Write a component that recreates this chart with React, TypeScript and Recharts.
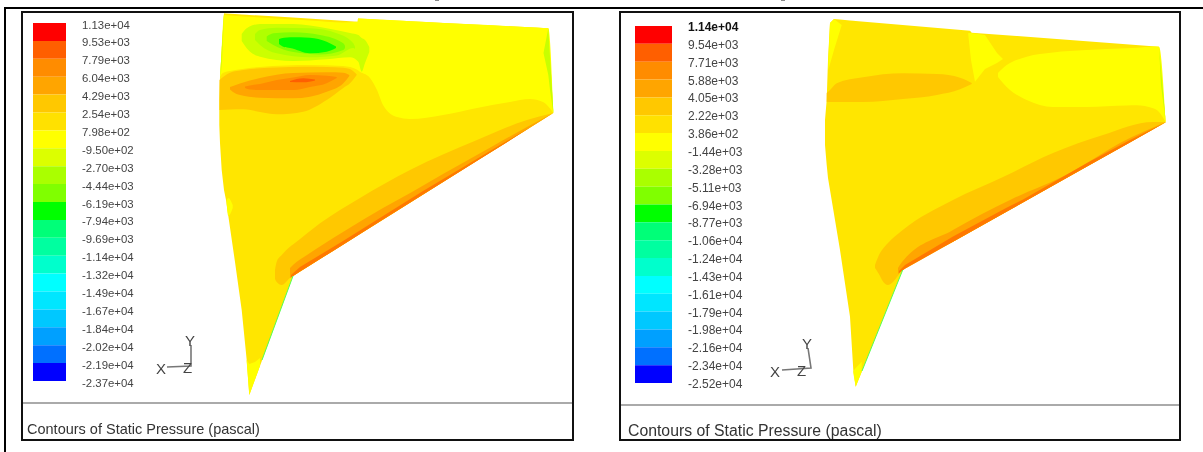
import { Area, Bar, BarChart, ComposedChart, Line, XAxis, YAxis } from "recharts";

type Row = [number, number, number];

const bandColors = [
  "#ff0000", "#ff5f00", "#ff8c00", "#ffa500", "#ffc800", "#ffe100", "#ffff00", "#dcff00", "#aaff00", "#80ff00",
  "#00ff00", "#00ff78", "#00ffa0", "#00ffcc", "#00ffff", "#00e6ff", "#00c8ff", "#00a0ff", "#0070ff", "#0000ff",
];

const leftLevels = [
  "1.13e+04", "9.53e+03", "7.79e+03", "6.04e+03", "4.29e+03", "2.54e+03", "7.98e+02", "-9.50e+02", "-2.70e+03",
  "-4.44e+03", "-6.19e+03", "-7.94e+03", "-9.69e+03", "-1.14e+04", "-1.32e+04", "-1.49e+04", "-1.67e+04",
  "-1.84e+04", "-2.02e+04", "-2.19e+04", "-2.37e+04",
];

const rightLevels = [
  "1.14e+04", "9.54e+03", "7.71e+03", "5.88e+03", "4.05e+03", "2.22e+03", "3.86e+02", "-1.44e+03", "-3.28e+03",
  "-5.11e+03", "-6.94e+03", "-8.77e+03", "-1.06e+04", "-1.24e+04", "-1.43e+04", "-1.61e+04", "-1.79e+04",
  "-1.98e+04", "-2.16e+04", "-2.34e+04", "-2.52e+04",
];

// contour bands, each row is [x, upper y, lower y]
const leftWing: Row[] = [
  [219.3, 100, 125], [220, 77, 143], [221.7, 50, 170], [224, 13.3, 190], [226, 13.4, 200], [235, 14, 262],
  [241.7, 14.4, 310], [246.7, 14.7, 360], [249.3, 14.9, 395], [293, 17.6, 276], [357.7, 21.7, 235.4],
  [358, 18.5, 235.2], [548.3, 28.3, 116.1], [553.3, 113, 113],
];
const leftYellow: Row[] = [
  [220, 77, 77], [221.7, 50, 74], [224, 15, 72.5], [230, 15.5, 71], [260, 17.5, 67], [310, 20.5, 65], [343, 22.5, 66],
  [357.7, 21.7, 70], [358, 18.5, 70.3], [370, 19.1, 78], [377, 19.5, 90], [383, 19.8, 105], [397, 20.5, 117],
  [410, 21.2, 119], [443, 22.9, 115], [477, 24.6, 108], [510, 26.3, 102], [530, 27.3, 99], [543, 28, 102],
  [548.3, 28.3, 106.5], [553.3, 113, 113],
];
const leftEdgeA: Row[] = [[220.5, 70, 78], [222, 45, 62], [224, 14, 18]];
const leftEdgeB: Row[] = [[543.5, 53, 53], [548.3, 28.3, 75], [550, 57, 90], [553.3, 110, 113]];
const leftOrange1: Row[] = [
  [219.5, 80, 110], [230, 72.7, 109.6], [243.3, 70, 109.3], [260, 68.3, 112], [276.7, 67.5, 114.3], [303.3, 66.7, 111.7],
  [326.7, 67, 100], [343.3, 67.7, 88], [350, 69, 83.3], [356.7, 74.5, 75],
];
const leftOrange2: Row[] = [
  [230, 87, 89.5], [233, 86, 92], [240, 83.5, 95], [260, 78, 97.7], [293.3, 73, 98.3], [326.7, 72.3, 91.7],
  [343.3, 72.7, 83.3], [349.3, 75, 76],
];
const leftOrange3: Row[] = [
  [245, 86.5, 88], [250, 85.5, 89.5], [260, 84, 90], [276.7, 80, 90], [293.3, 77.5, 90], [310, 75, 87],
  [326.7, 75.8, 83.3], [336.7, 77, 78],
];
const leftOrange4: Row[] = [[290, 81, 82], [303.3, 78.3, 82.3], [315, 79.5, 80.5]];
const leftGreen1: Row[] = [
  [241.7, 34, 41], [246.7, 28.3, 48.3], [260, 24, 56.7], [293.3, 24, 61], [326.7, 28.3, 59.3], [350, 33, 57.3],
  [358.3, 35, 61.7], [361.7, 38, 71.7], [365, 40, 63], [369.3, 47, 52],
];
const leftGreen2: Row[] = [
  [255, 34, 40], [260, 30, 45], [276.7, 27.7, 53.3], [310, 28.3, 57.3], [336.7, 33.3, 55.5], [353.3, 43.3, 48],
  [355, 47, 49],
];
const leftGreen3: Row[] = [
  [266.7, 36.5, 41], [273.3, 33.3, 45], [293.3, 32.3, 52], [320, 35, 54.5], [343.3, 43.3, 50], [345, 46, 48],
];
const leftGreen4: Row[] = [
  [279, 39, 44], [284, 37.8, 47], [290, 37.3, 48], [310, 37.7, 53.3], [326.7, 41.7, 51.7], [336, 46.5, 48],
];
const leftTrailing1: Row[] = [
  [275, 270, 279], [276.7, 261.7, 282], [281.7, 255, 285], [290, 246.7, 278], [293, 244.5, 276], [320, 223.3, 259],
  [360, 198, 234], [410, 170, 202.7], [477, 140, 160.8], [527, 120, 129.5], [553.3, 113, 113],
];
const leftTrailing2: Row[] = [
  [290, 268, 278], [293, 265, 276], [307, 255, 267.2], [343, 232, 244.7], [383, 208, 219.6], [412, 192, 201.5],
  [443, 174, 182], [493, 146, 150.8], [527, 127, 129.5], [553.3, 113, 113],
];
const leftTrailing3: Row[] = [
  [291, 275, 277.5], [300, 267, 271.6], [343, 241, 244.7], [383, 216, 219.6], [423, 191, 194.6], [460, 169, 171.4],
  [500, 145, 146.4], [530, 127.5, 127.6],
];
const leftTip: Row[] = [[246.7, 360, 362], [249.3, 364, 395], [255, 362, 379.4], [260, 358, 365.7]];
const leftSpot: Row[] = [[226.7, 200, 204], [228.3, 198, 216], [232.7, 205, 208]];

const rightWing: Row[] = [
  [825, 120, 145], [826.7, 100, 165], [828, 60, 178], [830, 23, 190], [834, 19, 214], [840, 19.5, 250],
  [850, 20.4, 316.7], [853.3, 20.7, 370], [855.7, 20.9, 386.7], [902.7, 24.9, 270], [970, 30.7, 232.2],
  [971.7, 32.7, 231.2], [1159, 46.7, 126.1], [1165.7, 122.3, 122.3],
];
const rightCorner: Row[] = [[828.3, 60, 70], [830, 23, 64], [834, 19, 50], [841.7, 25, 25]];
const rightEllipse: Row[] = [
  [826.7, 93, 101.7], [830, 90, 102], [836.7, 83.3, 102], [863, 77.3, 102], [903, 73.3, 99], [937, 74, 95],
  [960, 77.7, 89.3], [971.7, 83, 84],
];
const rightCentre: Row[] = [
  [968.3, 33, 35], [971, 33, 60], [975, 33.5, 81.7], [985, 35, 69], [997, 53, 63], [1003, 59, 59],
];
const rightYellow: Row[] = [
  [998, 73, 77], [1006.7, 65, 87], [1010, 63, 90], [1026.7, 56.7, 100], [1053, 52.5, 107], [1086.7, 50, 107],
  [1126.7, 48.3, 105.5], [1136.7, 47.8, 105.3], [1153, 46.6, 108.3], [1159, 46.7, 112], [1165.7, 122.3, 122.3],
];
const rightEdge: Row[] = [[1159, 46.7, 46.7], [1161, 69, 85], [1165.7, 122, 122]];
const rightTrailing1: Row[] = [
  [875, 265, 268], [880, 253, 276], [882, 250, 280], [888, 243, 285], [902.7, 230, 270], [953, 200, 241.8],
  [1003, 177, 213.7], [1053, 153, 185.6], [1103, 135, 157.5], [1153, 122, 129.4], [1165.7, 122.3, 122.3],
];
const rightTrailing2: Row[] = [
  [898, 268, 274], [902, 262, 270.4], [953, 230, 241.8], [1010, 200, 209.8], [1070, 173, 176], [1120, 143, 147.9],
  [1165.7, 122, 122.3],
];
const rightTrailing3: Row[] = [
  [899, 271, 273], [905, 265, 268.8], [953, 236.5, 241.8], [1007, 207.5, 211.4], [1023, 199.5, 202.5],
  [1087, 163, 166.5], [1130, 140, 142.4], [1165.7, 122.2, 122.3],
];
const rightTip: Row[] = [[853.3, 371, 373], [855.7, 368, 386.7], [861.7, 361.7, 371.8]];

const contourLayers: { rows: Row[]; fill: string; curve: "linear" | "monotone" }[] = [
  { rows: leftWing, fill: "#ffe600", curve: "linear" },
  { rows: leftYellow, fill: "#ffff00", curve: "monotone" },
  { rows: leftEdgeA, fill: "#d9ff00", curve: "linear" },
  { rows: leftEdgeB, fill: "#c8ff00", curve: "linear" },
  { rows: leftOrange1, fill: "#ffc800", curve: "monotone" },
  { rows: leftOrange2, fill: "#ffa500", curve: "monotone" },
  { rows: leftOrange3, fill: "#ff8c00", curve: "monotone" },
  { rows: leftOrange4, fill: "#ff5f00", curve: "monotone" },
  { rows: leftGreen1, fill: "#ccff00", curve: "monotone" },
  { rows: leftGreen2, fill: "#b0ff00", curve: "monotone" },
  { rows: leftGreen3, fill: "#80ff00", curve: "monotone" },
  { rows: leftGreen4, fill: "#00ff00", curve: "monotone" },
  { rows: leftTrailing1, fill: "#ffc800", curve: "monotone" },
  { rows: leftTrailing2, fill: "#ffa500", curve: "monotone" },
  { rows: leftTrailing3, fill: "#ff7800", curve: "linear" },
  { rows: leftTip, fill: "#ffff00", curve: "linear" },
  { rows: leftSpot, fill: "#ffff00", curve: "monotone" },
  { rows: rightWing, fill: "#ffe600", curve: "linear" },
  { rows: rightCorner, fill: "#ffff00", curve: "linear" },
  { rows: rightEllipse, fill: "#ffc800", curve: "monotone" },
  { rows: rightCentre, fill: "#ffff00", curve: "linear" },
  { rows: rightYellow, fill: "#ffff00", curve: "monotone" },
  { rows: rightEdge, fill: "#c8ff00", curve: "linear" },
  { rows: rightTrailing1, fill: "#ffc800", curve: "monotone" },
  { rows: rightTrailing2, fill: "#ffa500", curve: "monotone" },
  { rows: rightTrailing3, fill: "#ff7800", curve: "linear" },
  { rows: rightTip, fill: "#ffff00", curve: "linear" },
];

const wingEdges = [
  [{ x: 293, y: 276 }, { x: 262, y: 360 }],
  [{ x: 902.7, y: 270 }, { x: 862, y: 371 }],
];

const triads = [
  [{ x: 167, y: 367 }, { x: 191, y: 366 }, { x: 191, y: 345 }],
  [{ x: 782, y: 370 }, { x: 811, y: 368 }, { x: 808, y: 348 }],
];

const FONT = "'Liberation Sans', Arial, sans-serif";
const levelTicks = bandColors.map((_, i) => i).concat(bandColors.length);
const colorRow = [{ name: "levels", ...Object.fromEntries(bandColors.map((_, i) => [`b${i}`, 1])) }];

function ColorBar({ left, top, barWidth, barHeight, levels, fontSize, boldFirst, shift }: any) {
  const renderTick = ({ x, y, payload }: any) => (
    <text
      x={x}
      y={y}
      dy={4 + shift}
      fontSize={fontSize}
      fontFamily={FONT}
      fill={boldFirst && payload.value === 0 ? "#111" : "#444"}
      fontWeight={boldFirst && payload.value === 0 ? "bold" : "normal"}
    >
      {levels[payload.value]}
    </text>
  );

  return (
    <div style={{ position: "absolute", left, top: top - 10 }}>
      <BarChart
        width={barWidth + 80}
        height={barHeight + 20}
        data={colorRow}
        barCategoryGap={0}
        margin={{ top: 10, right: 0, bottom: 10, left: 0 }}
      >
        <XAxis dataKey="name" type="category" hide />
        <YAxis
          type="number"
          orientation="right"
          domain={[0, bandColors.length]}
          reversed
          ticks={levelTicks}
          interval={0}
          width={80}
          axisLine={false}
          tickLine={false}
          tickSize={0}
          tickMargin={16}
          tick={renderTick}
        />
        {bandColors.map((color, i) => (
          <Bar key={color} dataKey={`b${i}`} stackId="levels" fill={color} isAnimationActive={false} />
        ))}
      </BarChart>
    </div>
  );
}

function Panel({ left, top, width, height, rule }: any) {
  return (
    <div
      style={{
        position: "absolute",
        left,
        top,
        width,
        height,
        boxSizing: "border-box",
        border: "2px solid #111",
      }}
    >
      <div style={{ position: "absolute", left: 0, right: 0, top: rule - top - 2, height: 1.5, background: "#aaa" }} />
    </div>
  );
}

function Label({ left, top, size, color, children }: any) {
  return (
    <div
      style={{
        position: "absolute",
        left,
        top,
        fontFamily: FONT,
        fontSize: size,
        lineHeight: 1,
        color,
        whiteSpace: "nowrap",
      }}
    >
      {children}
    </div>
  );
}

export default function App() {
  return (
    <div
      style={{
        position: "absolute",
        left: 0,
        top: 0,
        width: 1203,
        height: 452,
        background: "#fff",
        overflow: "hidden",
        filter: "blur(0.35px)",
      }}
    >
      {/* outer frame */}
      <div style={{ position: "absolute", left: 4, right: 0, top: 7, height: 2, background: "#000" }} />
      <div style={{ position: "absolute", left: 4, top: 7, bottom: 0, width: 2, background: "#000" }} />
      <div style={{ position: "absolute", left: 435, top: 0, width: 4, height: 1, background: "#888" }} />
      <div style={{ position: "absolute", left: 781, top: 0, width: 4, height: 1, background: "#888" }} />

      <Panel left={21} top={11} width={553} height={430} rule={402} />
      <Panel left={619} top={11} width={562} height={430} rule={404} />

      <div style={{ position: "absolute", left: 0, top: 0 }}>
        <ComposedChart width={1203} height={452} margin={{ top: 0, right: 0, bottom: 0, left: 0 }}>
          <XAxis dataKey="x" type="number" domain={[0, 1203]} hide allowDataOverflow />
          <YAxis type="number" domain={[0, 452]} reversed hide allowDataOverflow />
          {contourLayers.map((layer, i) => (
            <Area
              key={i}
              data={layer.rows.map(([x, upper, lower]) => ({ x, band: [upper, lower] }))}
              dataKey="band"
              type={layer.curve}
              stroke="none"
              fill={layer.fill}
              fillOpacity={1}
              dot={false}
              activeDot={false}
              isAnimationActive={false}
            />
          ))}
          {wingEdges.map((edge, i) => (
            <Line
              key={`edge-${i}`}
              data={edge}
              dataKey="y"
              type="linear"
              stroke="#55ff55"
              strokeWidth={1}
              dot={false}
              activeDot={false}
              isAnimationActive={false}
            />
          ))}
          {triads.map((triad, i) => (
            <Line
              key={`triad-${i}`}
              data={triad}
              dataKey="y"
              type="linear"
              stroke="#777"
              strokeWidth={1.6}
              dot={false}
              activeDot={false}
              isAnimationActive={false}
            />
          ))}
        </ComposedChart>
      </div>

      <ColorBar left={33} top={23} barWidth={33} barHeight={358} levels={leftLevels} fontSize={11.4} shift={1.5} />
      <ColorBar left={635} top={26} barWidth={37} barHeight={357} levels={rightLevels} fontSize={12} shift={1} boldFirst />

      <Label left={185} top={333} size={15} color="#444">Y</Label>
      <Label left={156} top={361} size={15} color="#444">X</Label>
      <Label left={183} top={360} size={15} color="#444">Z</Label>
      <Label left={802} top={336} size={15} color="#444">Y</Label>
      <Label left={770} top={364} size={15} color="#444">X</Label>
      <Label left={797} top={363} size={15} color="#444">Z</Label>

      <Label left={27} top={422} size={14.5} color="#333">Contours of Static Pressure (pascal)</Label>
      <Label left={628} top={423} size={15.8} color="#333">Contours of Static Pressure (pascal)</Label>
    </div>
  );
}
